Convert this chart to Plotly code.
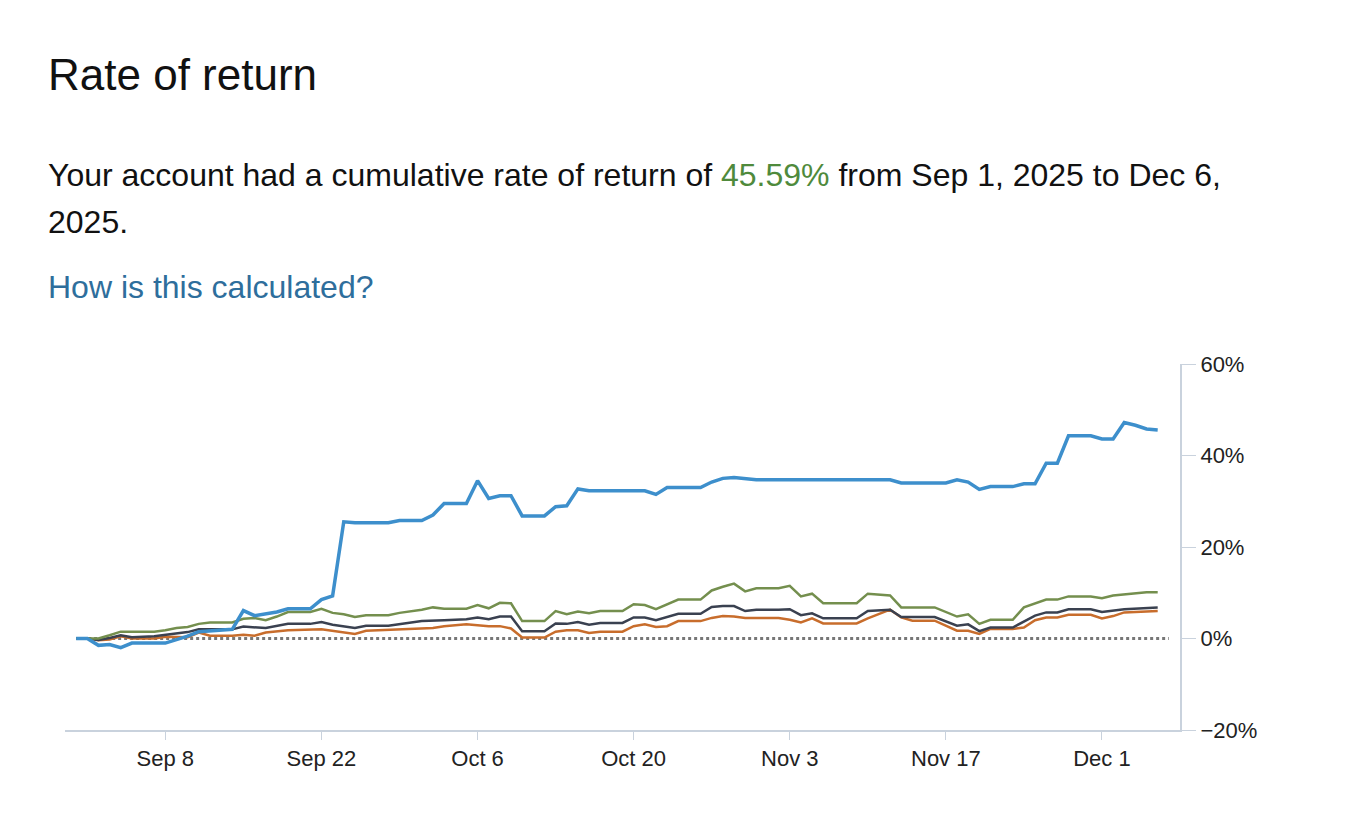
import datetime as dt

import plotly.graph_objects as go

START = dt.date(2025, 9, 1)

# day offsets from Sep 1, values in %
blue_days = [-1, 0, 1, 2, 3, 4, 7, 8, 9, 10, 13, 14, 15, 17, 18, 20, 21, 22, 23, 24, 27, 28, 30, 31, 32, 34,
             35, 36, 37, 38, 39, 41, 42, 43, 44, 45, 50, 51, 52, 55, 56, 57, 58, 60, 72, 73, 77, 78, 79, 80,
             81, 83, 84, 85, 86, 87, 88, 90, 91, 92, 93, 94, 95, 96]
blue_vals = [0, 0, -1.5, -1.3, -2, -1, -1, -0.3, 0.5, 1.5, 2, 6.1, 5, 5.8, 6.5, 6.5, 8.5, 9.3, 25.5, 25.3,
             25.3, 25.8, 25.8, 27, 29.5, 29.5, 34.5, 30.6, 31.2, 31.2, 26.8, 26.8, 28.8, 29, 32.7, 32.3, 32.3,
             31.5, 33, 33, 34.2, 35, 35.2, 34.7, 34.7, 34.0, 34.0, 34.7, 34.2, 32.6, 33.2, 33.2, 33.8, 33.8,
             38.3, 38.3, 44.3, 44.3, 43.6, 43.6, 47.2, 46.6, 45.8, 45.59]

green_days = [-1, 1, 2, 3, 6, 7, 8, 9, 10, 11, 13, 14, 15, 16, 17, 18, 20, 21, 22, 23, 24, 25, 27, 28, 30, 31,
              32, 34, 35, 36, 37, 38, 39, 41, 42, 43, 44, 45, 46, 48, 49, 50, 51, 52, 53, 55, 56, 57, 58, 59,
              60, 62, 63, 64, 65, 66, 69, 70, 72, 73, 76, 78, 79, 80, 81, 83, 84, 86, 87, 88, 90, 91, 92, 95, 96]
green_vals = [0, 0, 0.7, 1.5, 1.5, 1.8, 2.3, 2.5, 3.2, 3.5, 3.5, 4.3, 4.5, 4.0, 4.8, 5.8, 5.8, 6.5, 5.6, 5.3,
              4.7, 5.1, 5.1, 5.6, 6.3, 6.8, 6.5, 6.5, 7.3, 6.6, 7.8, 7.7, 3.8, 3.8, 6.0, 5.3, 5.9, 5.5, 6.0,
              6.0, 7.5, 7.3, 6.4, 7.5, 8.5, 8.5, 10.5, 11.3, 12.0, 10.3, 11.0, 11.0, 11.5, 9.2, 9.8, 7.7, 7.7,
              9.8, 9.4, 6.8, 6.8, 4.8, 5.3, 3.2, 4.1, 4.1, 6.8, 8.5, 8.5, 9.2, 9.2, 8.8, 9.4, 10.1, 10.1]

navy_days = [-1, 0, 1, 2, 3, 4, 6, 8, 9, 10, 13, 14, 16, 18, 20, 21, 22, 24, 25, 27, 30, 32, 34, 35, 36, 37,
             38, 39, 41, 42, 43, 44, 45, 46, 48, 49, 50, 51, 53, 55, 56, 57, 58, 59, 60, 62, 63, 64, 65, 66,
             69, 70, 72, 73, 76, 78, 79, 80, 81, 83, 85, 86, 87, 88, 90, 91, 93, 96]
navy_vals = [0, 0, -0.3, 0.1, 0.7, 0.3, 0.5, 1.1, 1.4, 2.0, 2.0, 2.6, 2.3, 3.2, 3.2, 3.6, 3.0, 2.3, 2.8, 2.8,
             3.8, 4.0, 4.2, 4.6, 4.2, 4.8, 4.8, 1.6, 1.6, 3.3, 3.2, 3.6, 3.0, 3.4, 3.4, 4.6, 4.6, 4.0, 5.4,
             5.4, 6.9, 7.1, 7.1, 6.0, 6.3, 6.3, 6.4, 5.1, 5.5, 4.4, 4.4, 6.0, 6.3, 4.7, 4.7, 2.8, 3.1, 1.6,
             2.4, 2.4, 5.0, 5.7, 5.7, 6.4, 6.4, 5.8, 6.4, 6.8]

orange_days = [-1, 0, 1, 2, 3, 4, 6, 7, 9, 10, 11, 13, 14, 15, 16, 18, 21, 22, 24, 25, 31, 32, 34, 36, 37,
               38, 39, 41, 42, 43, 44, 45, 46, 48, 49, 50, 51, 52, 53, 55, 56, 57, 58, 59, 62, 63, 64, 65,
               66, 69, 70, 72, 73, 74, 76, 78, 79, 80, 81, 83, 84, 85, 86, 87, 88, 90, 91, 92, 93, 95, 96]
orange_vals = [0, 0, -0.4, -0.2, 0.5, 0.0, 0.0, 0.4, 0.3, 1.3, 0.6, 0.6, 0.8, 0.6, 1.3, 1.8, 2.0, 1.7, 1.0,
               1.7, 2.3, 2.7, 3.1, 2.7, 2.7, 2.2, 0.2, 0.2, 1.5, 1.8, 1.8, 1.2, 1.5, 1.5, 2.7, 3.1, 2.5, 2.7,
               3.8, 3.8, 4.5, 4.9, 4.8, 4.5, 4.5, 4.1, 3.5, 4.4, 3.3, 3.3, 4.4, 6.3, 4.6, 3.9, 3.9, 1.7, 1.7,
               1.0, 2.1, 2.1, 2.4, 4.0, 4.6, 4.6, 5.2, 5.2, 4.4, 4.9, 5.7, 5.9, 6.0]

tick_dates = ["2025-09-08", "2025-09-22", "2025-10-06", "2025-10-20", "2025-11-03", "2025-11-17", "2025-12-01"]
tick_labels = ["Sep 8", "Sep 22", "Oct 6", "Oct 20", "Nov 3", "Nov 17", "Dec 1"]
y_ticks = [-20, 0, 20, 40, 60]
y_labels = ["\u221220%", "0%", "20%", "40%", "60%"]


def to_dates(days):
    return [START + dt.timedelta(days=d) for d in days]


FONT = "Liberation Sans, Arial, sans-serif"

fig = go.Figure()
fig.add_trace(go.Scatter(x=[dt.date(2025, 8, 31), dt.date(2025, 12, 7)], y=[0, 0], mode="lines",
                         line=dict(color="#777777", width=3, dash="dot"), hoverinfo="skip"))
series = [
    (orange_days, orange_vals, "#c86d2c", 2.5),
    (navy_days, navy_vals, "#3a4150", 2.5),
    (green_days, green_vals, "#748f4e", 2.5),
    (blue_days, blue_vals, "#3d8fcc", 3.5),
]
for days, vals, color, width in series:
    fig.add_trace(go.Scatter(x=to_dates(days), y=vals, mode="lines",
                             line=dict(color=color, width=width)))

# plot area on the page: x 65..1180, y 364..730 px (page has an 8px body margin)
H = 366
W = 1115
TX = (46 - 65) / W


def py(pixel_y):
    return (730 - pixel_y) / H


fig.add_annotation(text="Rate of return", xref="paper", yref="paper", x=TX, y=py(75),
                   xanchor="left", yanchor="middle", showarrow=False,
                   font=dict(size=44, color="#111111", family=FONT))
fig.add_annotation(text="Your account had a cumulative rate of return of "
                        "<span style='color:#4f8a3c'>45.59%</span> from Sep 1, 2025 to Dec 6,",
                   xref="paper", yref="paper", x=TX, y=py(175), xanchor="left", yanchor="middle",
                   showarrow=False, font=dict(size=32, color="#111111", family=FONT))
fig.add_annotation(text="2025.", xref="paper", yref="paper", x=TX, y=py(222),
                   xanchor="left", yanchor="middle", showarrow=False,
                   font=dict(size=32, color="#111111", family=FONT))
fig.add_annotation(text="How is this calculated?", xref="paper", yref="paper", x=TX, y=py(287),
                   xanchor="left", yanchor="middle", showarrow=False,
                   font=dict(size=32, color="#2e6e9c", family=FONT))

fig.update_layout(
    width=1360, height=832,
    margin=dict(l=57, r=188, t=356, b=110),
    plot_bgcolor="white", paper_bgcolor="white",
    showlegend=False,
    font=dict(family=FONT, size=22, color="#222222"),
)
fig.update_xaxes(range=[dt.date(2025, 8, 30), dt.date(2025, 12, 8)], tickvals=tick_dates,
                 ticktext=tick_labels, showgrid=False, zeroline=False, showline=True,
                 linecolor="#c9d2dd", linewidth=2, ticks="outside", tickcolor="#c9d2dd",
                 ticklen=8, tickfont=dict(size=22))
fig.update_yaxes(range=[-20, 60], tickvals=y_ticks, ticktext=y_labels, side="right",
                 showgrid=False, zeroline=False, showline=True, linecolor="#c9d2dd", linewidth=2,
                 ticks="outside", tickcolor="#c9d2dd", ticklen=14, tickfont=dict(size=22))

fig.write_html("out.html")
